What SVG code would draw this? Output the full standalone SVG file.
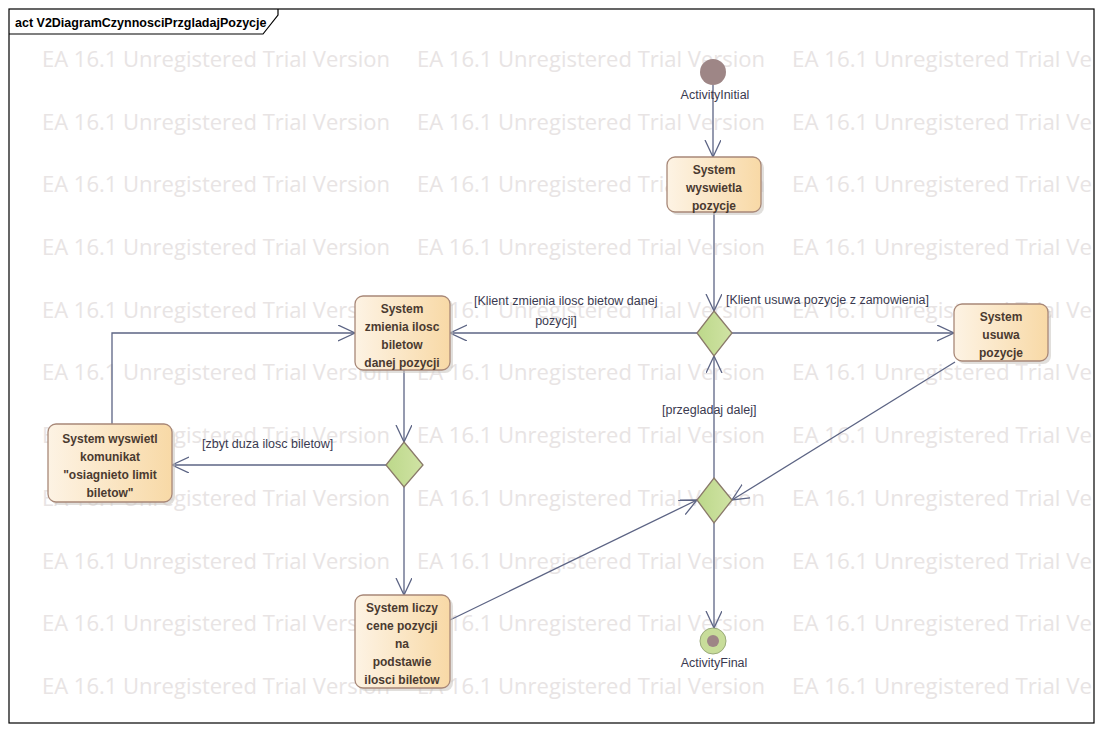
<svg xmlns="http://www.w3.org/2000/svg" width="1101" height="731" viewBox="0 0 1101 731">
<style>
.wm{font-family:"Open Sans","Liberation Sans",Arial,sans-serif;font-size:22px;fill:#e8e4e4}
.nt{font-family:"Liberation Sans",Arial,sans-serif;font-size:12px;font-weight:bold;fill:#4a3a30;text-anchor:middle}
.lb{font-family:"Liberation Sans",Arial,sans-serif;font-size:12.5px;fill:#3a3a50}
.act{fill:url(#ag);stroke:#a88878;stroke-width:1.3}
.sh{fill:#c8c4c0;opacity:0.55}
.dec{fill:url(#dg);stroke:#8a7a6a;stroke-width:1.3}
.cn{fill:none;stroke:#5c6484;stroke-width:1.3}
</style>
<defs>
<linearGradient id="ag" x1="0" y1="0" x2="1" y2="0"><stop offset="0" stop-color="#fdf3e4"/><stop offset="1" stop-color="#f8d9a6"/></linearGradient>
<linearGradient id="dg" x1="0" y1="0" x2="1" y2="0"><stop offset="0" stop-color="#bcd88a"/><stop offset="1" stop-color="#d0e3a4"/></linearGradient>
<marker id="ar" markerWidth="20" markerHeight="20" refX="17" refY="8" orient="auto" markerUnits="userSpaceOnUse"><path d="M0,0 L17,8 L0,16" fill="none" stroke="#5c6484" stroke-width="1.3"/></marker>
</defs>
<rect x="0" y="0" width="1101" height="731" fill="#ffffff"/>
<g id="watermark" class="wm">
<text x="42" y="67" textLength="348" lengthAdjust="spacingAndGlyphs">EA 16.1 Unregistered Trial Version</text><text x="417" y="67" textLength="348" lengthAdjust="spacingAndGlyphs">EA 16.1 Unregistered Trial Version</text><text x="792" y="67" textLength="300" lengthAdjust="spacingAndGlyphs">EA 16.1 Unregistered Trial Ve</text>
<text x="42" y="130" textLength="348" lengthAdjust="spacingAndGlyphs">EA 16.1 Unregistered Trial Version</text><text x="417" y="130" textLength="348" lengthAdjust="spacingAndGlyphs">EA 16.1 Unregistered Trial Version</text><text x="792" y="130" textLength="300" lengthAdjust="spacingAndGlyphs">EA 16.1 Unregistered Trial Ve</text>
<text x="42" y="192" textLength="348" lengthAdjust="spacingAndGlyphs">EA 16.1 Unregistered Trial Version</text><text x="417" y="192" textLength="348" lengthAdjust="spacingAndGlyphs">EA 16.1 Unregistered Trial Version</text><text x="792" y="192" textLength="300" lengthAdjust="spacingAndGlyphs">EA 16.1 Unregistered Trial Ve</text>
<text x="42" y="255" textLength="348" lengthAdjust="spacingAndGlyphs">EA 16.1 Unregistered Trial Version</text><text x="417" y="255" textLength="348" lengthAdjust="spacingAndGlyphs">EA 16.1 Unregistered Trial Version</text><text x="792" y="255" textLength="300" lengthAdjust="spacingAndGlyphs">EA 16.1 Unregistered Trial Ve</text>
<text x="42" y="318" textLength="348" lengthAdjust="spacingAndGlyphs">EA 16.1 Unregistered Trial Version</text><text x="417" y="318" textLength="348" lengthAdjust="spacingAndGlyphs">EA 16.1 Unregistered Trial Version</text><text x="792" y="318" textLength="300" lengthAdjust="spacingAndGlyphs">EA 16.1 Unregistered Trial Ve</text>
<text x="42" y="380" textLength="348" lengthAdjust="spacingAndGlyphs">EA 16.1 Unregistered Trial Version</text><text x="417" y="380" textLength="348" lengthAdjust="spacingAndGlyphs">EA 16.1 Unregistered Trial Version</text><text x="792" y="380" textLength="300" lengthAdjust="spacingAndGlyphs">EA 16.1 Unregistered Trial Ve</text>
<text x="42" y="443" textLength="348" lengthAdjust="spacingAndGlyphs">EA 16.1 Unregistered Trial Version</text><text x="417" y="443" textLength="348" lengthAdjust="spacingAndGlyphs">EA 16.1 Unregistered Trial Version</text><text x="792" y="443" textLength="300" lengthAdjust="spacingAndGlyphs">EA 16.1 Unregistered Trial Ve</text>
<text x="42" y="506" textLength="348" lengthAdjust="spacingAndGlyphs">EA 16.1 Unregistered Trial Version</text><text x="417" y="506" textLength="348" lengthAdjust="spacingAndGlyphs">EA 16.1 Unregistered Trial Version</text><text x="792" y="506" textLength="300" lengthAdjust="spacingAndGlyphs">EA 16.1 Unregistered Trial Ve</text>
<text x="42" y="569" textLength="348" lengthAdjust="spacingAndGlyphs">EA 16.1 Unregistered Trial Version</text><text x="417" y="569" textLength="348" lengthAdjust="spacingAndGlyphs">EA 16.1 Unregistered Trial Version</text><text x="792" y="569" textLength="300" lengthAdjust="spacingAndGlyphs">EA 16.1 Unregistered Trial Ve</text>
<text x="42" y="631" textLength="348" lengthAdjust="spacingAndGlyphs">EA 16.1 Unregistered Trial Version</text><text x="417" y="631" textLength="348" lengthAdjust="spacingAndGlyphs">EA 16.1 Unregistered Trial Version</text><text x="792" y="631" textLength="300" lengthAdjust="spacingAndGlyphs">EA 16.1 Unregistered Trial Ve</text>
<text x="42" y="694" textLength="348" lengthAdjust="spacingAndGlyphs">EA 16.1 Unregistered Trial Version</text><text x="417" y="694" textLength="348" lengthAdjust="spacingAndGlyphs">EA 16.1 Unregistered Trial Version</text><text x="792" y="694" textLength="300" lengthAdjust="spacingAndGlyphs">EA 16.1 Unregistered Trial Ve</text>
</g>
<g id="frame">
<rect x="9" y="9" width="1085" height="714" fill="none" stroke="#000" stroke-width="1.2"/>
<path d="M9,34 L263,34 L278,15 L278,9" fill="none" stroke="#000" stroke-width="1.2"/>
<text x="15" y="27" style="font-family:'Liberation Sans',Arial,sans-serif;font-size:12.5px;font-weight:bold;fill:#000">act V2DiagramCzynnosciPrzgladajPozycje</text>
</g>
<g id="connectors">
<path class="cn" d="M713,85 L713,157" marker-end="url(#ar)"/>
<path class="cn" d="M714,212 L714,311" marker-end="url(#ar)"/>
<path class="cn" d="M697,333 L450,333" marker-end="url(#ar)"/>
<path class="cn" d="M732,333 L954,333" marker-end="url(#ar)"/>
<path class="cn" d="M404,370 L404,442" marker-end="url(#ar)"/>
<path class="cn" d="M386,465 L172,465" marker-end="url(#ar)"/>
<path class="cn" d="M112,424 L112,333 L355,333" marker-end="url(#ar)"/>
<path class="cn" d="M404,487 L404,595" marker-end="url(#ar)"/>
<path class="cn" d="M450,620 L697,500" marker-end="url(#ar)"/>
<path class="cn" d="M955,362 L732,500" marker-end="url(#ar)"/>
<path class="cn" d="M714,478 L714,356" marker-end="url(#ar)"/>
<path class="cn" d="M714,523 L714,628" marker-end="url(#ar)"/>
<text class="lb" x="474" y="305">[Klient zmienia ilosc bietow danej</text>
<text class="lb" x="556" y="325" text-anchor="middle">pozycji]</text>
<text class="lb" x="726" y="304">[Klient usuwa pozycje z zamowienia]</text>
<text class="lb" x="202" y="448">[zbyt duza ilosc biletow]</text>
<text class="lb" x="662" y="414">[przegladaj dalej]</text>
</g>
<g id="initial">
<circle cx="713" cy="72" r="13" fill="#9e8686"/>
<text class="lb" x="715" y="99" text-anchor="middle">ActivityInitial</text>
</g>
<g id="wyswietla">
<rect class="sh" x="670" y="160" width="94" height="55" rx="8"/>
<rect class="act" x="667" y="157" width="94" height="55" rx="8"/>
<text class="nt" x="714" y="174">System</text>
<text class="nt" x="714" y="192">wyswietla</text>
<text class="nt" x="714" y="210">pozycje</text>
</g>
<g id="d1">
<path class="dec" d="M714,311 L732,333 L714,356 L697,333 Z"/>
</g>
<g id="zmienia">
<rect class="sh" x="358" y="299" width="95" height="74" rx="8"/>
<rect class="act" x="355" y="296" width="95" height="74" rx="8"/>
<text class="nt" x="402" y="313">System</text>
<text class="nt" x="402" y="331">zmienia ilosc</text>
<text class="nt" x="402" y="349">biletow</text>
<text class="nt" x="402" y="367">danej pozycji</text>
</g>
<g id="usuwa">
<rect class="sh" x="957" y="307" width="94" height="57" rx="8"/>
<rect class="act" x="954" y="304" width="94" height="57" rx="8"/>
<text class="nt" x="1001" y="321">System</text>
<text class="nt" x="1001" y="339">usuwa</text>
<text class="nt" x="1001" y="357">pozycje</text>
</g>
<g id="komunikat">
<rect class="sh" x="51" y="427" width="124" height="78" rx="8"/>
<rect class="act" x="48" y="424" width="124" height="78" rx="8"/>
<text class="nt" x="110" y="443">System wyswietl</text>
<text class="nt" x="110" y="461">komunikat</text>
<text class="nt" x="110" y="479">"osiagnieto limit</text>
<text class="nt" x="110" y="497">biletow"</text>
</g>
<g id="d2">
<path class="dec" d="M404,442 L423,465 L404,487 L386,465 Z"/>
</g>
<g id="liczy">
<rect class="sh" x="358" y="598" width="95" height="93" rx="8"/>
<rect class="act" x="355" y="595" width="95" height="93" rx="8"/>
<text class="nt" x="402" y="612">System liczy</text>
<text class="nt" x="402" y="630">cene pozycji</text>
<text class="nt" x="402" y="648">na</text>
<text class="nt" x="402" y="666">podstawie</text>
<text class="nt" x="402" y="684">ilosci biletow</text>
</g>
<g id="d3">
<path class="dec" d="M714,478 L732,500 L714,523 L697,500 Z"/>
</g>
<g id="final">
<circle cx="713" cy="641" r="13" fill="#c8dd9a" stroke="#9aaa7a" stroke-width="1"/>
<circle cx="713" cy="641" r="6" fill="#9e8686"/>
<text class="lb" x="714" y="667" text-anchor="middle">ActivityFinal</text>
</g>
</svg>
